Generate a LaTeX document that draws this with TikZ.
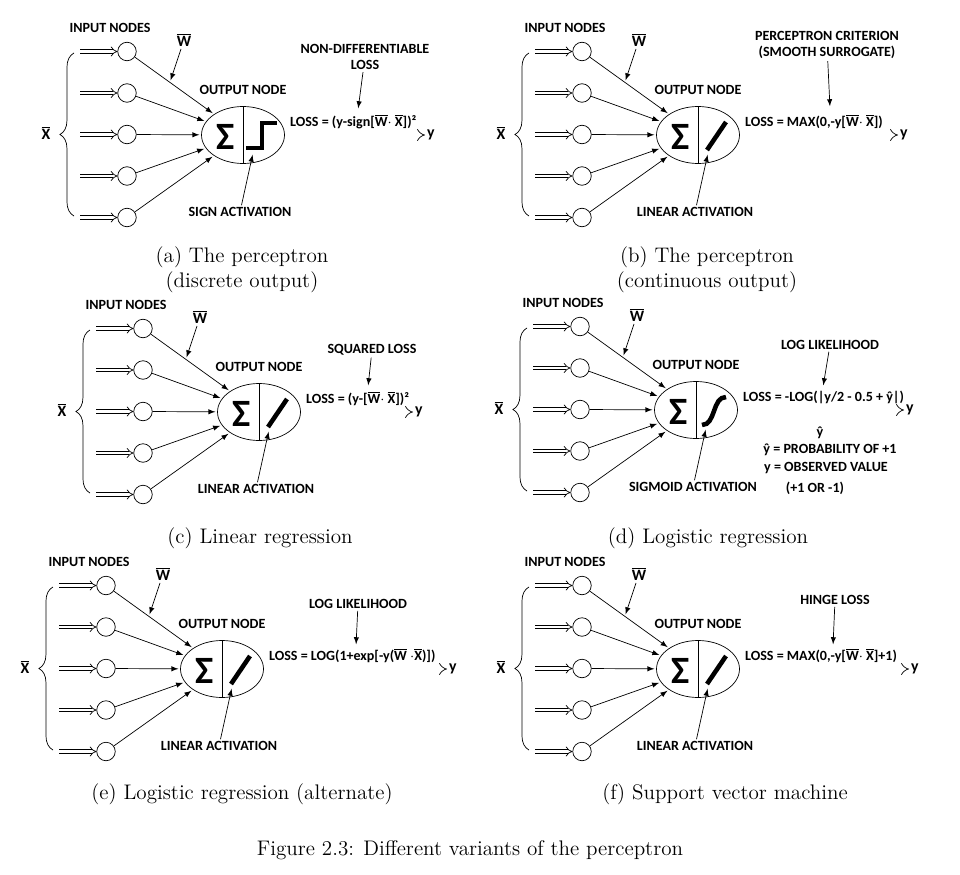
\documentclass[tikz,border=0pt]{standalone}
\usepackage{fontspec}
\newfontfamily\lblfont{Carlito}
\usetikzlibrary{arrows,shapes.geometric,decorations.pathreplacing}
\newcommand\ovl[1]{$\overline{\hbox{#1}}$}
% one panel: name, shift, activation, activation label, loss, loss label, arrow length, label pos, label arrow end
\newcommand\panel[9]{%
  \begin{scope}[shift={(#2)}]
    \node[lbl] at (110,28) {INPUT NODES};
    \foreach \i in {1,...,5}{
      \node[inp] (#1-in\i) at (127,{10+41.5*\i}) {};
      \coordinate (#1-src\i) at (80,{10+41.5*\i});
      \draw[feed] (#1-src\i) -- (#1-in\i);
    }
    \draw[decorate,decoration={brace,amplitude=8pt}] (74,216) -- (74,53);
    \node[lbl,font=\lblfont\bfseries\small] at (46,133) {\ovl{X}};
    \node[outn] (#1-out) at (243,135) {};
    \draw (#1-out.north) -- (#1-out.south);
    \node[sigma] at (226,137) {Σ};
    #3
    \foreach \i in {1,...,5}
      \draw[wt] (#1-in\i) -- (#1-out);
    \node[lbl] at (243,90) {OUTPUT NODE};
    \node[lbl,font=\lblfont\bfseries\small] (#1-w) at (184,40) {\ovl{W}};
    \coordinate (#1-wend) at (170,82);
    \draw[wt] (#1-w) -- (#1-wend);
    \node[lbl] (#1-act) at (240,212) {#4};
    \coordinate (#1-actend) at (253,153);
    \draw[wt] (#1-act) -- (#1-actend);
    \coordinate (#1-start) at (288,135);
    \coordinate (#1-y) at ({243+#7},135);
    \draw[outarr] (#1-start) -- (#1-y);
    \node[lbl,anchor=west,font=\lblfont\bfseries\small] at (#1-y) {y};
    \node[lbl,anchor=south west] at (288,131) {#5};
    \node[lbl,align=center] (#1-loss) at (#8) {#6};
    \coordinate (#1-lossend) at (#9);
    \draw[wt] (#1-loss) -- (#1-lossend);
  \end{scope}}
\begin{document}
\begin{tikzpicture}[x=0.02cm,y=-0.02cm,
    lbl/.style={font=\lblfont\bfseries\fontsize{8}{9.5}\selectfont,inner sep=1pt},
    inp/.style={circle,draw,minimum size=0.37cm,inner sep=0pt},
    outn/.style={ellipse,draw,minimum width=1.66cm,minimum height=1.14cm},
    sigma/.style={font=\lblfont\bfseries\fontsize{22}{22}\selectfont},
    feed/.style={double,double distance=1.6pt,-implies},
    outarr/.style={double,double distance=2pt,-implies},
    wt/.style={-latex,shorten >=1pt},
    act/.style={line width=2.6pt},
    capt/.style={font=\fontsize{12}{14}\selectfont,align=center}]
  \useasboundingbox (0,0) rectangle (960,875);
  \panel{a}{0,0}{\draw[act] (246,148) -- (262,148) -- (262,123) -- (277,123);}
    {SIGN ACTIVATION}{LOSS = (y-sign[\ovl{W}$\cdot$ \ovl{X}])²}
    {NON-DIFFERENTIABLE\\LOSS}{182}{365,57}{358,110}
  \panel{b}{455,0}{\draw[act] (252,150) -- (271,122);}
    {LINEAR ACTIVATION}{LOSS = MAX(0,-y[\ovl{W}$\cdot$ \ovl{X}])}
    {PERCEPTRON CRITERION\\(SMOOTH SURROGATE)}{200}{372,45}{375,108}
  \panel{c}{16,277}{\draw[act] (252,150) -- (271,122);}
    {LINEAR ACTIVATION}{LOSS = (y-[\ovl{W}$\cdot$ \ovl{X}])²}
    {SQUARED LOSS}{154}{356,73}{352,110}
  \panel{d}{453,275}{\draw[act] (249,150) .. controls (263,150) and (259,122) .. (273,122);}
    {SIGMOID ACTIVATION}{LOSS = -LOG(|y/2 - 0.5 + ŷ|)}
    {LOG LIKELIHOOD}{208}{377,70}{370,112}
  \panel{e}{-21,534}{\draw[act] (252,150) -- (271,122);}
    {LINEAR ACTIVATION}{LOSS = LOG(1+exp[-y(\ovl{W} $\cdot$\ovl{X})])}
    {LOG LIKELIHOOD}{225}{379,70}{377,112}
  \panel{f}{455,534}{\draw[act] (252,150) -- (271,122);}
    {LINEAR ACTIVATION}{LOSS = MAX(0,-y[\ovl{W}$\cdot$ \ovl{X}]+1)}
    {HINGE LOSS}{211}{380,66}{378,112}
  % extra notes of panel (d)
  \node[lbl] at (820,433) {ŷ};
  \node[lbl] at (830,450) {ŷ = PROBABILITY OF +1};
  \node[lbl] at (826,468) {y = OBSERVED VALUE};
  \node[lbl] at (815,488) {(+1 OR -1)};
  % captions
  \node[capt] at (242,270) {(a) The perceptron\\(discrete output)};
  \node[capt] at (707,270) {(b) The perceptron\\(continuous output)};
  \node[capt] at (260,538) {(c) Linear regression};
  \node[capt] at (708,538) {(d) Logistic regression};
  \node[capt] at (242,794) {(e) Logistic regression (alternate)};
  \node[capt] at (725,794) {(f) Support vector machine};
  \node[capt] at (470,850) {Figure 2.3: Different variants of the perceptron};
\end{tikzpicture}
\end{document}
